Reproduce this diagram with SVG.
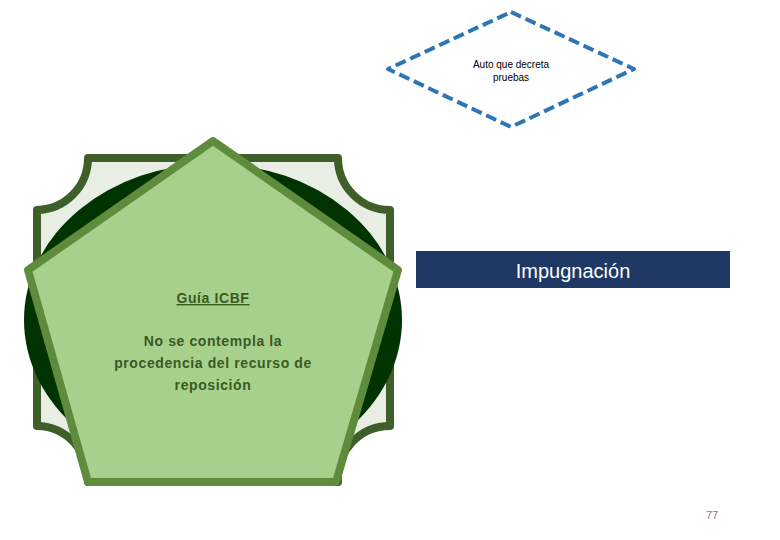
<svg xmlns="http://www.w3.org/2000/svg" width="780" height="540" viewBox="0 0 780 540">
<style>
.t{font-family:"Liberation Sans","Open Sans",sans-serif}
.g{fill:#3a5a22;font-size:14px;font-weight:bold;text-anchor:middle;letter-spacing:0.6px}
</style>
<rect width="780" height="540" fill="#ffffff"/>
<g id="plaque">
<path d="M88,158 L338,158 A52,52 0 0 0 390,210 L390,426 A52,52 0 0 0 338,482 L88,482 A52,52 0 0 0 37,426 L37,210 A52,52 0 0 0 88,158 Z" fill="#e9eee4" stroke="#3e5f29" stroke-width="8" stroke-linejoin="round"/>
</g>
<g id="ellipse">
<ellipse cx="213" cy="320" rx="189" ry="156" fill="#003300"/>
</g>
<g id="pentagon">
<polygon points="213,141 28,270 88,482 336,482 398,270" fill="#a8d08d" stroke="#5f8c3c" stroke-width="8" stroke-linejoin="round"/>
<text class="t g" x="213" y="303" text-decoration="underline">Guía ICBF</text>
<text class="t g" x="213" y="346">No se contempla la</text>
<text class="t g" x="213" y="368">procedencia del recurso de</text>
<text class="t g" x="213" y="390">reposición</text>
</g>
<g id="diamond">
<polygon points="511,12 634,69 511,127 388,69" fill="#ffffff" stroke="#2e75b6" stroke-width="4" stroke-dasharray="11,5" stroke-linejoin="round"/>
<text class="t" x="511" y="68" font-size="10" text-anchor="middle" fill="#000">Auto que decreta</text>
<text class="t" x="511" y="81" font-size="10" text-anchor="middle" fill="#000">pruebas</text>
</g>
<g id="impugnacion">
<rect x="416" y="251" width="314" height="37" fill="#1f3864"/>
<text class="t" x="573" y="278" font-size="20" text-anchor="middle" fill="#ffffff">Impugnación</text>
</g>
<g id="connectors"></g>
<text class="t" x="712" y="519" font-size="11" text-anchor="middle" fill="#7f7f7f">77</text>
</svg>
